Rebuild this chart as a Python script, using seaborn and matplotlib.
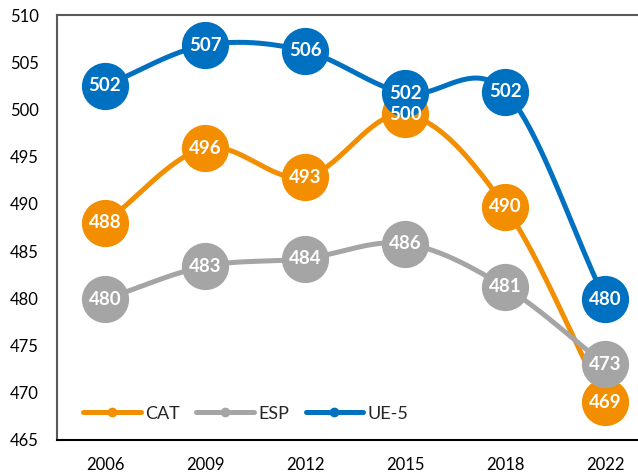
import numpy as np
import pandas as pd
import matplotlib
matplotlib.use("Agg")
import matplotlib.pyplot as plt
import seaborn as sns
from matplotlib.lines import Line2D

years = ["2006", "2009", "2012", "2015", "2018", "2022"]
cat_values = [488.0, 495.9, 492.8, 499.5, 489.7, 469.0]
esp_values = [479.9, 483.4, 484.2, 485.8, 481.2, 473.0]
ue5_values = [502.5, 506.8, 506.2, 501.7, 501.9, 479.9]
series_names = ["CAT", "ESP", "UE-5"]
series_values = [cat_values, esp_values, ue5_values]
colors = ["#F28E00", "#A5A5A5", "#0070C0"]
y_ticks = [465, 470, 475, 480, 485, 490, 495, 500, 505, 510]

sns.set_style("white")
plt.rcParams["font.family"] = ["Lato", "DejaVu Sans"]

fig = plt.figure(figsize=(6.38, 4.74), dpi=100)
ax = fig.add_axes([57 / 638, 34 / 474, 600 / 638, 425 / 474])


def catmull_rom(x, y, n=40):
    x = np.asarray(x, float)
    y = np.asarray(y, float)
    px = np.concatenate([[2 * x[0] - x[1]], x, [2 * x[-1] - x[-2]]])
    py = np.concatenate([[2 * y[0] - y[1]], y, [2 * y[-1] - y[-2]]])
    xs, ys = [], []
    for i in range(1, len(px) - 2):
        t = np.linspace(0, 1, n, endpoint=(i == len(px) - 3))
        for p, out in ((px, xs), (py, ys)):
            p0, p1, p2, p3 = p[i - 1], p[i], p[i + 1], p[i + 2]
            out.append(0.5 * ((2 * p1) + (-p0 + p2) * t
                              + (2 * p0 - 5 * p1 + 4 * p2 - p3) * t ** 2
                              + (-p0 + 3 * p1 - 3 * p2 + p3) * t ** 3))
    return np.concatenate(xs), np.concatenate(ys)


xpos = np.arange(len(years))
for name, vals, col in zip(series_names, series_values, colors):
    sx, sy = catmull_rom(xpos, vals)
    curve = pd.DataFrame({"x": sx, "y": sy})
    sns.lineplot(data=curve, x="x", y="y", sort=False, color=col, linewidth=3.6,
                 ax=ax, zorder=2)
    pts = pd.DataFrame({"x": xpos, "y": vals})
    sns.scatterplot(data=pts, x="x", y="y", color=col, s=34 ** 2, linewidth=0,
                    ax=ax, zorder=3)
    for xi, v in zip(xpos, vals):
        ax.text(xi, v, f"{round(v):d}", color="white", fontsize=13.5,
                fontweight="bold", ha="center", va="center", zorder=4)

ax.set_xlim(-0.48, len(years) - 0.48)
ax.set_ylim(465, 510)
ax.set_xticks(xpos)
ax.set_xticklabels(years)
ax.set_yticks(y_ticks)
ax.set_yticklabels([str(t) for t in y_ticks])
ax.tick_params(axis="both", labelsize=12, colors="black", length=0)
ax.tick_params(axis="y", pad=13)
ax.tick_params(axis="x", pad=12)
ax.set_xlabel("")
ax.set_ylabel("")
for side in ["left", "top"]:
    ax.spines[side].set_color("#595959")
    ax.spines[side].set_linewidth(1.5)
ax.spines["bottom"].set_color("black")
ax.spines["bottom"].set_linewidth(1.5)
ax.spines["right"].set_visible(False)

handles = [Line2D([0], [0], color=c, linewidth=3.6, marker="o", markersize=6)
           for c in colors]
ax.legend(handles, series_names, loc="center left", bbox_to_anchor=(0.028, 0.062),
          ncol=3, frameon=False, fontsize=13, handlelength=3.2,
          handletextpad=0.25, columnspacing=0.9, borderpad=0)

fig.savefig("out.png", dpi=100)
